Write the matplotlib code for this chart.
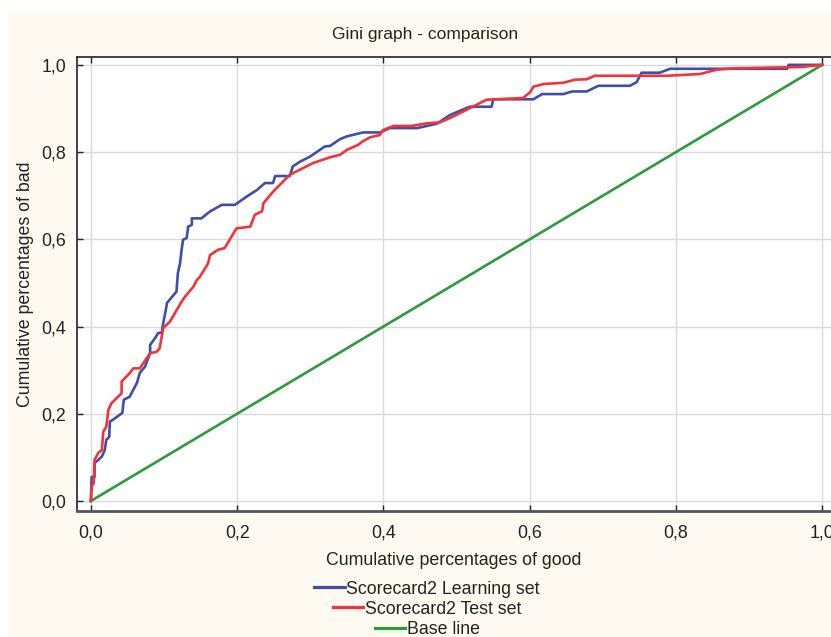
import matplotlib
matplotlib.use("Agg")
import matplotlib.pyplot as plt
from matplotlib.patches import Rectangle
from matplotlib.lines import Line2D
from matplotlib.ticker import FuncFormatter, MultipleLocator

plt.rcParams['font.family'] = ['Liberation Sans', 'DejaVu Sans']

# Scorecard2 Learning set (cumulative % good, cumulative % bad)
learn_x = [0.0, 0.001, 0.005, 0.005, 0.010, 0.015, 0.019, 0.021, 0.025, 0.026,
           0.030, 0.043, 0.045, 0.053, 0.063, 0.067, 0.074, 0.081, 0.081, 0.088,
           0.092, 0.097, 0.098, 0.103, 0.104, 0.117, 0.119, 0.122, 0.124, 0.126,
           0.131, 0.133, 0.138, 0.138, 0.151, 0.163, 0.179, 0.197, 0.213, 0.227,
           0.238, 0.249, 0.252, 0.272, 0.276, 0.286, 0.300, 0.320, 0.327, 0.341,
           0.350, 0.372, 0.395, 0.409, 0.446, 0.473, 0.491, 0.518, 0.548, 0.550,
           0.605, 0.617, 0.646, 0.658, 0.678, 0.694, 0.737, 0.746, 0.753, 0.778,
           0.792, 0.952, 0.954, 1.0]
learn_y = [0.0, 0.055, 0.055, 0.087, 0.094, 0.102, 0.117, 0.140, 0.147, 0.182,
           0.186, 0.202, 0.232, 0.239, 0.271, 0.294, 0.308, 0.339, 0.358, 0.374,
           0.385, 0.386, 0.400, 0.443, 0.454, 0.480, 0.523, 0.546, 0.576, 0.599,
           0.603, 0.629, 0.633, 0.648, 0.648, 0.664, 0.679, 0.679, 0.698, 0.713,
           0.729, 0.729, 0.745, 0.745, 0.767, 0.778, 0.790, 0.813, 0.814, 0.830,
           0.836, 0.845, 0.845, 0.855, 0.855, 0.865, 0.885, 0.904, 0.904, 0.921,
           0.921, 0.933, 0.933, 0.939, 0.939, 0.952, 0.952, 0.960, 0.982, 0.982,
           0.991, 0.991, 1.0, 1.0]

# Scorecard2 Test set
test_x = [0.0, 0.001, 0.004, 0.005, 0.010, 0.015, 0.017, 0.021, 0.024, 0.028,
          0.042, 0.042, 0.053, 0.058, 0.067, 0.076, 0.081, 0.090, 0.094, 0.099,
          0.108, 0.124, 0.129, 0.140, 0.145, 0.149, 0.160, 0.163, 0.174, 0.183,
          0.199, 0.218, 0.224, 0.234, 0.236, 0.249, 0.272, 0.304, 0.327, 0.341,
          0.350, 0.366, 0.371, 0.382, 0.395, 0.400, 0.414, 0.439, 0.459, 0.477,
          0.491, 0.509, 0.541, 0.591, 0.601, 0.605, 0.619, 0.646, 0.662, 0.678,
          0.689, 0.788, 0.833, 0.856, 0.878, 0.970, 1.0]
test_y = [0.0, 0.033, 0.041, 0.094, 0.110, 0.117, 0.159, 0.170, 0.209, 0.224,
          0.247, 0.274, 0.293, 0.304, 0.304, 0.327, 0.339, 0.342, 0.350, 0.397,
          0.411, 0.457, 0.469, 0.491, 0.507, 0.514, 0.544, 0.564, 0.576, 0.580,
          0.625, 0.629, 0.656, 0.664, 0.683, 0.709, 0.748, 0.775, 0.788, 0.794,
          0.805, 0.817, 0.824, 0.834, 0.839, 0.851, 0.860, 0.860, 0.866, 0.868,
          0.878, 0.893, 0.920, 0.924, 0.938, 0.950, 0.956, 0.959, 0.966, 0.967,
          0.975, 0.975, 0.979, 0.989, 0.992, 0.995, 1.0]

base_x = [0.0, 1.0]
base_y = [0.0, 1.0]

labels = ['Scorecard2 Learning set', 'Scorecard2 Test set', 'Base line']
colors = ['#3f4fa8', '#f2333a', '#2e9a3c']

fig = plt.figure(figsize=(8.31, 6.37), dpi=100)
fig.patch.set_facecolor('white')
fig.patches.append(Rectangle((8 / 831, 0), 1, 1 - 12 / 637, transform=fig.transFigure,
                             facecolor='#fffaf1', edgecolor='none', zorder=-10))

ax = fig.add_axes([77 / 831, 1 - 511 / 637, 1 - 77 / 831, (511 - 57) / 637])
ax.set_facecolor('white')

ax.plot(learn_x, learn_y, color=colors[0], lw=1.9, label=labels[0], zorder=3)
ax.plot(test_x, test_y, color=colors[1], lw=1.9, label=labels[1], zorder=4)
ax.plot(base_x, base_y, color=colors[2], lw=1.9, label=labels[2], zorder=2)

ax.set_xlim(-0.019, 1.012)
ax.set_ylim(-0.023, 1.018)
ax.xaxis.set_major_locator(MultipleLocator(0.2))
ax.yaxis.set_major_locator(MultipleLocator(0.2))
fmt = FuncFormatter(lambda v, p: f'{v:.1f}'.replace('.', ','))
ax.xaxis.set_major_formatter(fmt)
ax.yaxis.set_major_formatter(fmt)
ax.grid(True, color='#dadada', lw=1.0)
ax.set_axisbelow(True)
ax.tick_params(direction='in', length=4, width=1, top=True, right=False,
               labelsize=12.8, colors='#222222', pad=8)
ax.tick_params(axis='x', pad=10)
for s in ax.spines.values():
    s.set_color('#222222')
    s.set_linewidth(1.2)
ax.spines['bottom'].set_color('#555555')
ax.spines['bottom'].set_linewidth(2.0)
ax.spines['right'].set_visible(False)

ax.set_xlabel('Cumulative percentages of good', fontsize=12.8, color='#222222', labelpad=7)
ax.set_ylabel('Cumulative percentages of bad', fontsize=12.8, color='#222222', labelpad=5)

fig.text(425 / 831, 1 - 34 / 637, 'Gini graph - comparison', ha='center', va='center',
         fontsize=12.5, color='#222222')

handles = [Line2D([], [], color=c, lw=2.3) for c in colors]
ypos = [1 - 589 / 637, 1 - 609 / 637, 1 - 630 / 637]
for h, lab, yy in zip(handles, labels, ypos):
    lg = fig.legend([h], [lab], loc='center', bbox_to_anchor=(0.514, yy),
                    frameon=False, fontsize=12.8, handlelength=1.7,
                    handletextpad=0.1, borderpad=0, borderaxespad=0)
    for t in lg.get_texts():
        t.set_color('#222222')

fig.savefig('out.png', dpi=100, facecolor=fig.get_facecolor())
